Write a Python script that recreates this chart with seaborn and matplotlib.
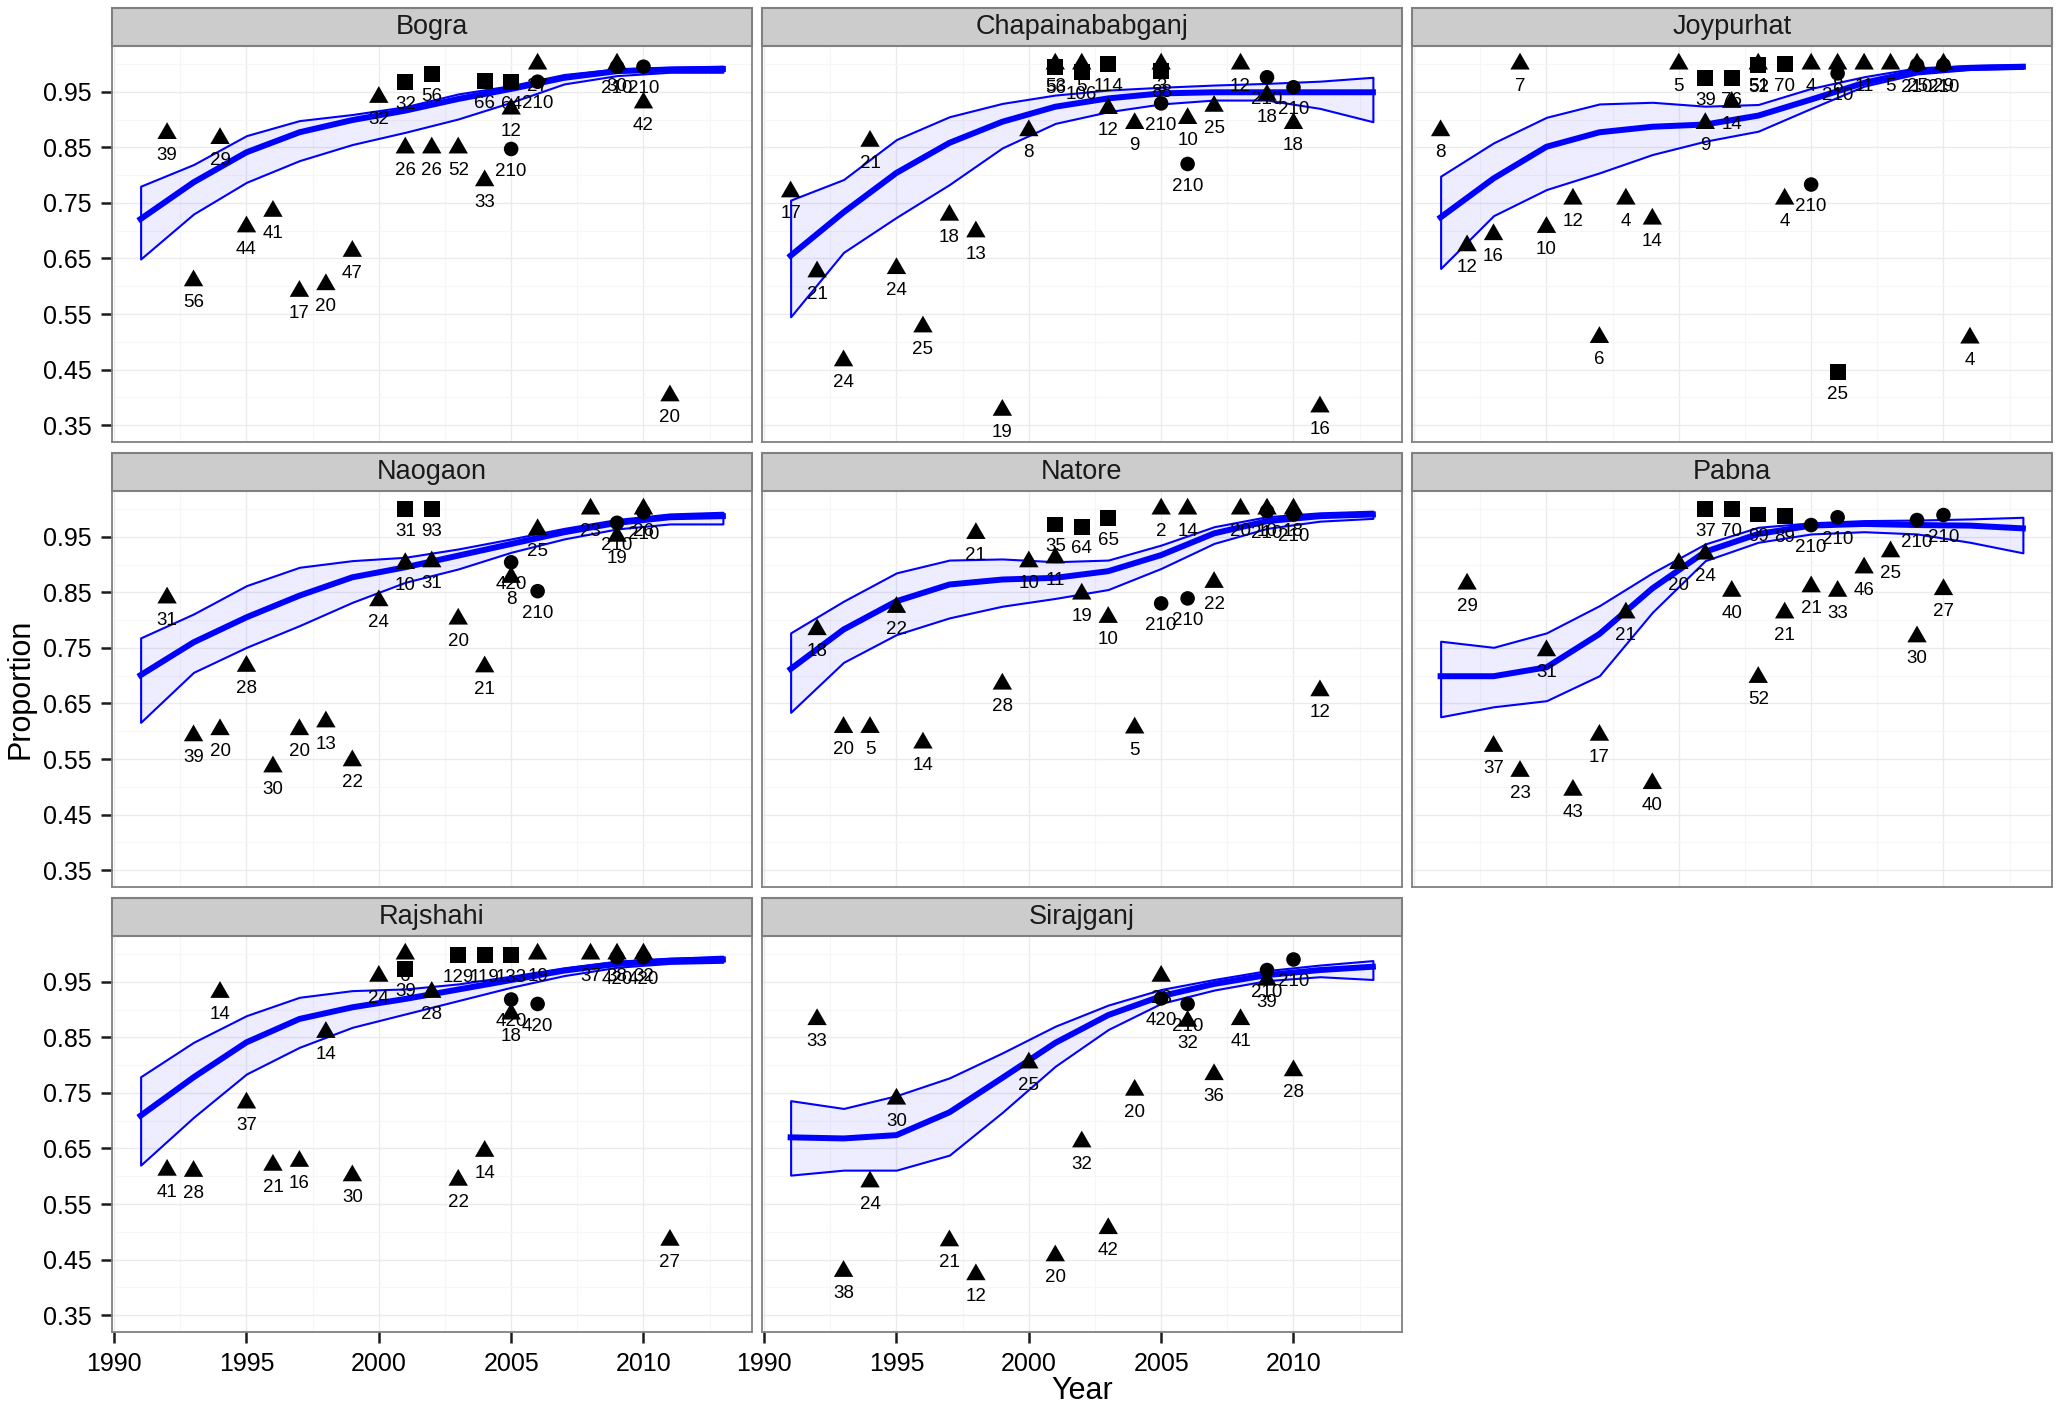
import numpy as np
import pandas as pd
import seaborn as sns
import matplotlib.pyplot as plt
from matplotlib.patches import Rectangle
from matplotlib.markers import MarkerStyle

plt.rcParams['font.family'] = ['Liberation Sans', 'DejaVu Sans']

districts = ['Bogra', 'Chapainababganj', 'Joypurhat', 'Naogaon', 'Natore',
             'Pabna', 'Rajshahi', 'Sirajganj']

# observed proportions: year, value, survey marker (t/s/c), sample size label
bogra_year = [1992, 1993, 1994, 1995, 1996, 1997, 1998, 1999, 2000, 2001, 2001, 2002, 2002,
              2003, 2004, 2004, 2005, 2005, 2005, 2006, 2006, 2009, 2009, 2010, 2010, 2011]
bogra_prop = [.875, .610, .866, .707, .735, .591, .603, .663, .940, .967, .849, .982, .849,
              .849, .790, .969, .967, .919, .847, 1.0, .968, 1.0, .995, .995, .930, .403]
bogra_shape = ['t', 't', 't', 't', 't', 't', 't', 't', 't', 's', 't', 's', 't',
               't', 't', 's', 's', 't', 'c', 't', 'c', 't', 'c', 'c', 't', 't']
bogra_n = [39, 56, 29, 44, 41, 17, 20, 47, 32, 32, 26, 56, 26,
           52, 33, 66, 64, 12, 210, 27, 210, 30, 210, 210, 42, 20]

chapai_year = [1991, 1992, 1993, 1994, 1995, 1996, 1997, 1998, 1999, 2000, 2001, 2001, 2002, 2002, 2003,
               2003, 2004, 2005, 2005, 2005, 2006, 2006, 2007, 2008, 2009, 2009, 2010, 2010, 2011]
chapai_prop = [.77, .626, .466, .861, .632, .527, .728, .698, .377, .88, 1.0, .995, 1.0, .985, 1.0,
               .92, .893, 1.0, .988, .929, .902, .82, .924, 1.0, .976, .944, .958, .893, .383]
chapai_shape = ['t', 't', 't', 't', 't', 't', 't', 't', 't', 't', 't', 's', 't', 's', 's',
                't', 't', 't', 's', 'c', 't', 'c', 't', 't', 'c', 't', 'c', 't', 't']
chapai_n = [17, 21, 24, 21, 24, 25, 18, 13, 19, 8, 53, 56, 5, 106, 114,
            12, 9, 3, 88, 210, 10, 210, 25, 12, 210, 18, 210, 18, 16]

joy_year = [1991, 1992, 1993, 1994, 1995, 1996, 1997, 1998, 1999, 2000, 2001, 2001, 2002, 2002, 2003,
            2003, 2004, 2004, 2005, 2005, 2006, 2006, 2006, 2007, 2008, 2009, 2009, 2010, 2010, 2011]
joy_prop = [.88, .673, .693, 1.0, .706, .757, .508, .757, .721, 1.0, .974, .893, .974, .931, 1.0,
            .998, 1.0, .757, 1.0, .783, 1.0, .983, .445, 1.0, 1.0, 1.0, .998, 1.0, .998, .507]
joy_shape = ['t', 't', 't', 't', 't', 't', 't', 't', 't', 't', 's', 't', 's', 't', 't',
             's', 's', 't', 't', 'c', 't', 'c', 's', 't', 't', 't', 'c', 't', 'c', 't']
joy_n = [8, 12, 16, 7, 10, 12, 6, 4, 14, 5, 39, 9, 76, 14, 51,
         52, 70, 4, 4, 210, 8, 210, 25, 11, 5, 25, 210, 29, 210, 4]

naog_year = [1992, 1993, 1994, 1995, 1996, 1997, 1998, 1999, 2000, 2001, 2001, 2002,
             2002, 2003, 2004, 2005, 2005, 2006, 2006, 2008, 2009, 2009, 2010, 2010]
naog_prop = [.84, .592, .603, .717, .536, .603, .617, .547, .835, 1.0, .902, 1.0,
             .905, .802, .716, .904, .877, .963, .852, 1.0, .975, .951, 1.0, .994]
naog_shape = ['t', 't', 't', 't', 't', 't', 't', 't', 't', 's', 't', 's',
              't', 't', 't', 'c', 't', 't', 'c', 't', 'c', 't', 't', 'c']
naog_n = [31, 39, 20, 28, 30, 20, 13, 22, 24, 31, 10, 93,
          31, 20, 21, 420, 8, 25, 210, 23, 210, 19, 26, 210]

nat_year = [1992, 1993, 1994, 1995, 1996, 1998, 1999, 2000, 2001, 2001, 2002, 2002, 2003,
            2003, 2004, 2005, 2005, 2006, 2006, 2007, 2008, 2009, 2009, 2010, 2010, 2011]
nat_prop = [.783, .607, .607, .823, .579, .956, .685, .905, .972, .912, .968, .847, .984,
            .805, .606, 1.0, .83, 1.0, .839, .868, 1.0, 1.0, .996, 1.0, .99, .673]
nat_shape = ['t', 't', 't', 't', 't', 't', 't', 't', 's', 't', 's', 't', 's',
             't', 't', 't', 'c', 't', 'c', 't', 't', 't', 'c', 't', 'c', 't']
nat_n = [18, 20, 5, 22, 14, 21, 28, 10, 35, 11, 64, 19, 65,
         10, 5, 2, 210, 14, 210, 22, 20, 10, 210, 18, 210, 12]

pab_year = [1992, 1993, 1994, 1995, 1996, 1997, 1998, 1999, 2000, 2001, 2001, 2002, 2002, 2003,
            2003, 2004, 2004, 2005, 2005, 2006, 2006, 2007, 2008, 2009, 2009, 2010, 2010]
pab_prop = [.865, .573, .528, .745, .494, .593, .813, .506, .902, 1.0, .919, 1.0, .852, .99,
            .697, .988, .813, .971, .86, .985, .852, .894, .923, .98, .77, .989, .855]
pab_shape = ['t', 't', 't', 't', 't', 't', 't', 't', 't', 's', 't', 's', 't', 's',
             't', 's', 't', 'c', 't', 'c', 't', 't', 't', 'c', 't', 'c', 't']
pab_n = [29, 37, 23, 31, 43, 17, 21, 40, 20, 37, 24, 70, 40, 99,
         52, 89, 21, 210, 21, 210, 33, 46, 25, 210, 30, 210, 27]

raj_year = [1992, 1993, 1994, 1995, 1996, 1997, 1998, 1999, 2000, 2001, 2001, 2002, 2003, 2003,
            2004, 2004, 2005, 2005, 2005, 2006, 2006, 2008, 2009, 2009, 2010, 2010, 2011]
raj_prop = [.611, .609, .931, .732, .62, .627, .859, .601, .96, 1.0, .973, .931, .998, .593,
            .998, .645, .998, .918, .892, 1.0, .91, 1.0, 1.0, .994, 1.0, .994, .485]
raj_shape = ['t', 't', 't', 't', 't', 't', 't', 't', 't', 't', 's', 't', 's', 't',
             's', 't', 's', 'c', 't', 't', 'c', 't', 't', 'c', 't', 'c', 't']
raj_n = [41, 28, 14, 37, 21, 16, 14, 30, 24, 6, 39, 28, 129, 22,
         119, 14, 133, 420, 18, 19, 420, 37, 38, 420, 32, 420, 27]

sir_year = [1992, 1993, 1994, 1995, 1997, 1998, 2000, 2001, 2002, 2003, 2004,
            2005, 2005, 2006, 2006, 2007, 2008, 2009, 2009, 2010, 2010]
sir_prop = [.882, .429, .59, .739, .484, .423, .804, .457, .662, .506, .755,
            .96, .92, .91, .879, .783, .882, .971, .953, .99, .79]
sir_shape = ['t', 't', 't', 't', 't', 't', 't', 't', 't', 't', 't',
             't', 'c', 'c', 't', 't', 't', 'c', 't', 'c', 't']
sir_n = [33, 38, 24, 30, 21, 12, 25, 20, 32, 42, 20,
         23, 420, 210, 32, 36, 41, 210, 39, 210, 28]

# fitted trend and confidence band, read every two years
fit_year = [1991, 1993, 1995, 1997, 1999, 2001, 2003, 2005, 2007, 2009, 2011, 2013]

bogra_fit = [.721, .787, .841, .877, .899, .916, .937, .955, .975, .987, .990, .991]
bogra_lo = [.649, .730, .787, .826, .855, .877, .901, .931, .964, .979, .985, .985]
bogra_hi = [.780, .819, .871, .898, .909, .923, .946, .961, .981, .991, .994, .996]

chapai_fit = [.655, .733, .804, .858, .896, .923, .938, .947, .949, .949, .949, .949]
chapai_lo = [.545, .661, .724, .783, .849, .893, .914, .928, .935, .935, .920, .896]
chapai_hi = [.755, .792, .864, .905, .929, .944, .953, .958, .962, .965, .969, .976]

joy_fit = [.724, .794, .851, .877, .887, .891, .907, .936, .966, .987, .993, .995]
joy_lo = [.632, .727, .774, .804, .837, .861, .879, .920, .960, .982, .990, .992]
joy_hi = [.798, .858, .904, .928, .931, .924, .927, .956, .977, .993, .997, .999]

naog_fit = [.701, .760, .805, .844, .877, .895, .916, .937, .958, .975, .985, .987]
naog_lo = [.616, .706, .751, .790, .832, .868, .892, .922, .946, .964, .973, .973]
naog_hi = [.768, .811, .862, .895, .907, .913, .928, .946, .965, .981, .991, .994]

nat_fit = [.712, .783, .834, .864, .873, .876, .888, .917, .956, .978, .987, .990]
nat_lo = [.634, .724, .774, .804, .825, .839, .855, .893, .938, .965, .978, .983]
nat_hi = [.777, .834, .885, .908, .910, .905, .908, .935, .968, .986, .993, .996]

pab_fit = [.699, .699, .715, .775, .857, .923, .955, .970, .973, .971, .970, .965]
pab_lo = [.626, .644, .655, .700, .814, .907, .940, .955, .959, .955, .940, .921]
pab_hi = [.762, .751, .777, .826, .885, .937, .967, .975, .979, .980, .982, .985]

raj_fit = [.709, .778, .841, .883, .904, .919, .936, .953, .970, .982, .988, .990]
raj_lo = [.620, .706, .784, .832, .868, .892, .916, .940, .961, .976, .983, .985]
raj_hi = [.779, .841, .889, .922, .934, .937, .946, .960, .975, .987, .992, .996]

sir_fit = [.670, .668, .674, .715, .777, .840, .890, .924, .946, .962, .971, .977]
sir_lo = [.602, .611, .611, .638, .715, .798, .864, .911, .935, .952, .959, .954]
sir_hi = [.736, .722, .745, .777, .822, .870, .908, .936, .954, .970, .980, .988]

points = [
    (bogra_year, bogra_prop, bogra_shape, bogra_n),
    (chapai_year, chapai_prop, chapai_shape, chapai_n),
    (joy_year, joy_prop, joy_shape, joy_n),
    (naog_year, naog_prop, naog_shape, naog_n),
    (nat_year, nat_prop, nat_shape, nat_n),
    (pab_year, pab_prop, pab_shape, pab_n),
    (raj_year, raj_prop, raj_shape, raj_n),
    (sir_year, sir_prop, sir_shape, sir_n),
]
fits = [
    (bogra_fit, bogra_lo, bogra_hi), (chapai_fit, chapai_lo, chapai_hi),
    (joy_fit, joy_lo, joy_hi), (naog_fit, naog_lo, naog_hi),
    (nat_fit, nat_lo, nat_hi), (pab_fit, pab_lo, pab_hi),
    (raj_fit, raj_lo, raj_hi), (sir_fit, sir_lo, sir_hi),
]

W, H = 2059, 1416
fig = plt.figure(figsize=(W / 100, H / 100), dpi=100)

col_left = [111.5, 761.5, 1411.5]
row_top = [45.7, 490.7, 935.7]
pw, ph = 640.5, 396.5
strip_h = 37.4

tri = MarkerStyle(np.array([(-1, -0.577), (1, -0.577), (0, 1.155)]))
marker_style = {'t': (tri, 260), 's': ('s', 130), 'c': ('o', 110)}

for i, name in enumerate(districts):
    r, c = divmod(i, 3)
    ax = fig.add_axes([col_left[c] / W, 1 - (row_top[r] + ph) / H, pw / W, ph / H])
    ax.set_xlim(1989.9, 2014.1)
    ax.set_ylim(0.3194, 1.0328)
    ax.set_facecolor('white')

    # grid
    ax.set_xticks([1990, 1995, 2000, 2005, 2010])
    ax.set_xticks(np.arange(1992.5, 2014, 5), minor=True)
    ax.set_yticks(np.arange(0.35, 0.96, 0.1))
    ax.set_yticks(np.arange(0.4, 1.01, 0.1), minor=True)
    ax.set_yticklabels(['%.2f' % v for v in np.arange(0.35, 0.96, 0.1)])
    ax.set_axisbelow(True)
    ax.grid(which='major', color='#EBEBEB', linewidth=1.0)
    ax.grid(which='minor', color='#F6F6F6', linewidth=0.8)
    ax.tick_params(which='minor', length=0)
    ax.tick_params(which='major', labelsize=18, length=8, width=1.8,
                   color='#1a1a1a', pad=6.5, labelcolor='black')
    if c != 0:
        ax.tick_params(axis='y', which='major', length=0, labelleft=False)
    if i not in (6, 7):
        ax.tick_params(axis='x', which='major', length=0, labelbottom=False)
    for sp in ax.spines.values():
        sp.set_color('#808080')
        sp.set_linewidth(1.3)

    # smooth + band
    fit, lo, hi = fits[i]
    ax.fill_between(fit_year, lo, hi, facecolor=(0, 0, 1, 0.07), edgecolor='blue',
                    linewidth=1.5, zorder=2)
    sns.lineplot(x=fit_year, y=fit, color='blue', linewidth=4.3, ax=ax, zorder=3)

    # observed points
    yr, pr, sh, nn = points[i]
    df = pd.DataFrame({'year': yr, 'prop': pr, 'shape': sh, 'n': nn})
    for key, (mk, sz) in marker_style.items():
        sub = df[df['shape'] == key]
        if len(sub):
            sns.scatterplot(data=sub, x='year', y='prop', marker=mk, s=sz, color='black',
                            edgecolor='none', linewidth=0, legend=False, ax=ax, zorder=4)
    for _, row in df.iterrows():
        ax.text(row['year'], row['prop'] - 0.04, str(row['n']), ha='center', va='center',
                fontsize=13.5, color='black', zorder=5)
    ax.set_xlabel('')
    ax.set_ylabel('')

    # facet strip
    ax.add_patch(Rectangle((0, 1), 1, strip_h / ph, transform=ax.transAxes, clip_on=False,
                           facecolor='#CCCCCC', edgecolor='#808080', linewidth=1.5, zorder=6))
    ax.text(0.5, 1 + strip_h / 2 / ph, name, transform=ax.transAxes, ha='center',
            va='center', fontsize=19.5, color='#1a1a1a', zorder=7)

fig.text(20 / W, 1 - 689 / H, 'Proportion', rotation=90, ha='center', va='center', fontsize=22)
fig.text(1082 / W, 1 - 1391 / H, 'Year', ha='center', va='center', fontsize=22)

fig.savefig('out.png', dpi=100)
